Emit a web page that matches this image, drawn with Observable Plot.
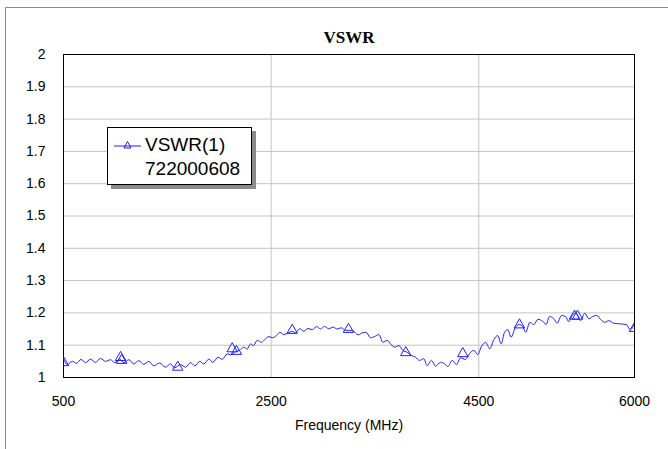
<!DOCTYPE html>
<html>
<head>
<meta charset="utf-8">
<script src="https://cdn.jsdelivr.net/npm/d3@7"></script>
<script src="https://cdn.jsdelivr.net/npm/@observablehq/plot@0.6"></script>
<style>
  html, body { margin: 0; padding: 0; background: #fff; overflow: hidden; }
  #wrap { position: relative; width: 668px; height: 449px; }
  #outer { position: absolute; left: 5px; top: 7px; width: 720px; height: 500px;
           border-left: 1px solid #8a8a8a; border-top: 1px solid #8a8a8a; pointer-events: none; }
  #legend { position: absolute; left: 107px; top: 127px; width: 143px; height: 56px;
            border: 1px solid #000; background: #fff; box-shadow: 4px 4px 0 #8c8c8c;
            font-family: Arial, "Liberation Sans", sans-serif; font-size: 19px; color: #000; }
  #legend svg { position: absolute; left: 4px; top: 11px; }
  #legend .t1 { position: absolute; left: 37px; top: 6px; line-height: 22px; white-space: nowrap; }
  #legend .t2 { position: absolute; left: 37px; top: 30px; line-height: 22px; white-space: nowrap; }
</style>
</head>
<body>
<div id="wrap">
  <div id="chart"></div>
  <div id="outer"></div>
  <div id="legend">
    <svg width="30" height="14"><line x1="2" y1="7" x2="29" y2="7" stroke="#1f1fff" stroke-width="1"/><path d="M15.5,2.5 L19,9 L12,9 Z" fill="none" stroke="#1f1fff" stroke-width="1"/></svg>
    <span class="t1">VSWR(1)</span>
    <span class="t2">722000608</span>
  </div>
</div>
<script>
// ---- data ----
const freq = [500, 536, 584, 625, 670, 712, 760, 808, 856, 905, 953, 994, 1042, 1081, 1129, 1177, 1225, 1273, 1322, 1370,
  1425, 1482, 1531, 1569, 1627, 1675, 1723, 1765, 1813, 1851, 1900, 1938, 1990, 2029, 2077, 2109, 2157, 2195, 2237, 2269,
  2301, 2330, 2366, 2407, 2446, 2478, 2510, 2552, 2584, 2622, 2661, 2703, 2735, 2776, 2815, 2853, 2896, 2937, 2975, 3014,
  3055, 3098, 3136, 3175, 3216, 3264, 3296, 3338, 3377, 3416, 3457, 3498, 3537, 3576, 3618, 3656, 3691, 3730, 3768, 3811,
  3852, 3891, 3929, 3970, 4003, 4045, 4083, 4131, 4173, 4202, 4244, 4285, 4324, 4372, 4413, 4452, 4490, 4523, 4565, 4606,
  4645, 4683, 4716, 4748, 4780, 4812, 4851, 4889, 4924, 4953, 4991, 5030, 5070, 5117, 5149, 5181, 5223, 5255, 5297, 5335,
  5367, 5406, 5438, 5480, 5521, 5560, 5598, 5637, 5675, 5714, 5752, 5800, 5865, 5920, 5961, 6000];
const vswr = [1.058, 1.040, 1.050, 1.044, 1.056, 1.046, 1.057, 1.047, 1.059, 1.050, 1.055, 1.046, 1.057, 1.046, 1.055, 1.042, 1.052, 1.041, 1.050, 1.036,
  1.045, 1.032, 1.042, 1.030, 1.040, 1.032, 1.046, 1.036, 1.050, 1.042, 1.057, 1.047, 1.063, 1.056, 1.073, 1.070, 1.080, 1.084, 1.094, 1.088,
  1.104, 1.099, 1.115, 1.109, 1.120, 1.127, 1.123, 1.130, 1.140, 1.133, 1.137, 1.143, 1.139, 1.151, 1.143, 1.152, 1.148, 1.158, 1.150, 1.158,
  1.151, 1.156, 1.150, 1.154, 1.146, 1.146, 1.143, 1.132, 1.138, 1.140, 1.123, 1.127, 1.133, 1.109, 1.115, 1.102, 1.094, 1.099, 1.084, 1.078,
  1.068, 1.063, 1.053, 1.058, 1.037, 1.053, 1.035, 1.047, 1.042, 1.034, 1.053, 1.040, 1.061, 1.056, 1.075, 1.084, 1.071, 1.094, 1.109, 1.089,
  1.117, 1.130, 1.104, 1.140, 1.148, 1.125, 1.154, 1.164, 1.158, 1.140, 1.171, 1.164, 1.180, 1.174, 1.164, 1.189, 1.182, 1.168, 1.192, 1.189,
  1.173, 1.195, 1.199, 1.176, 1.199, 1.182, 1.189, 1.192, 1.179, 1.171, 1.176, 1.168, 1.166, 1.164, 1.148, 1.168];
const markerFreq = [500, 1050, 1060, 1600, 2125, 2166, 2703, 3245, 3797, 4346, 4892, 5422, 5451, 6000];
const markerVswr = [1.046, 1.062, 1.053, 1.032, 1.089, 1.081, 1.146, 1.149, 1.077, 1.074, 1.163, 1.190, 1.190, 1.152];
const xTicks = [500, 2500, 4500, 6000];
const yTicks = [1, 1.1, 1.2, 1.3, 1.4, 1.5, 1.6, 1.7, 1.8, 1.9, 2];
const title = "VSWR";
const xLabel = "Frequency (MHz)";

const series = freq.map((f, i) => ({f, v: vswr[i]}));
const markers = markerFreq.map((f, i) => ({f, v: markerVswr[i]}));
const blue = "#1f1fff";

const chart = Plot.plot({
  width: 668,
  height: 449,
  marginLeft: 63,
  marginRight: 34,
  marginTop: 54,
  marginBottom: 72,
  style: {fontFamily: "Arial, 'Liberation Sans', sans-serif", fontSize: "14px", background: "transparent", color: "#000"},
  x: {domain: [500, 6000], label: null},
  y: {domain: [1, 2], label: null},
  marks: [
    Plot.gridY(yTicks, {stroke: "#c4c4c4", strokeOpacity: 1}),
    Plot.gridX([2500, 4500], {stroke: "#c4c4c4", strokeOpacity: 1}),
    Plot.frame({stroke: "#000", strokeWidth: 1}),
    Plot.line(series, {x: "f", y: "v", stroke: blue, strokeWidth: 1, curve: "monotone-x", clip: true}),
    Plot.dot(markers, {x: "f", y: "v", symbol: "triangle", r: 3.9, stroke: blue, fill: "none", strokeWidth: 1, clip: true}),
    Plot.axisX(xTicks, {tickSize: 0, tickPadding: 19, fontSize: 14, label: null, tickFormat: d => String(d)}),
    Plot.axisY(yTicks, {tickSize: 0, tickPadding: 18, fontSize: 14, label: null, tickFormat: d => String(+d.toFixed(1))}),
    Plot.text([title], {frameAnchor: "top", dy: -17, text: d => d, fontFamily: "'Times New Roman', 'Liberation Serif', serif", fontWeight: "bold", fontSize: 17, lineAnchor: "middle"}),
    Plot.text([xLabel], {frameAnchor: "bottom", dy: 48, text: d => d, fontSize: 14, lineAnchor: "middle"})
  ]
});
document.getElementById("chart").appendChild(chart);
</script>
</body>
</html>
